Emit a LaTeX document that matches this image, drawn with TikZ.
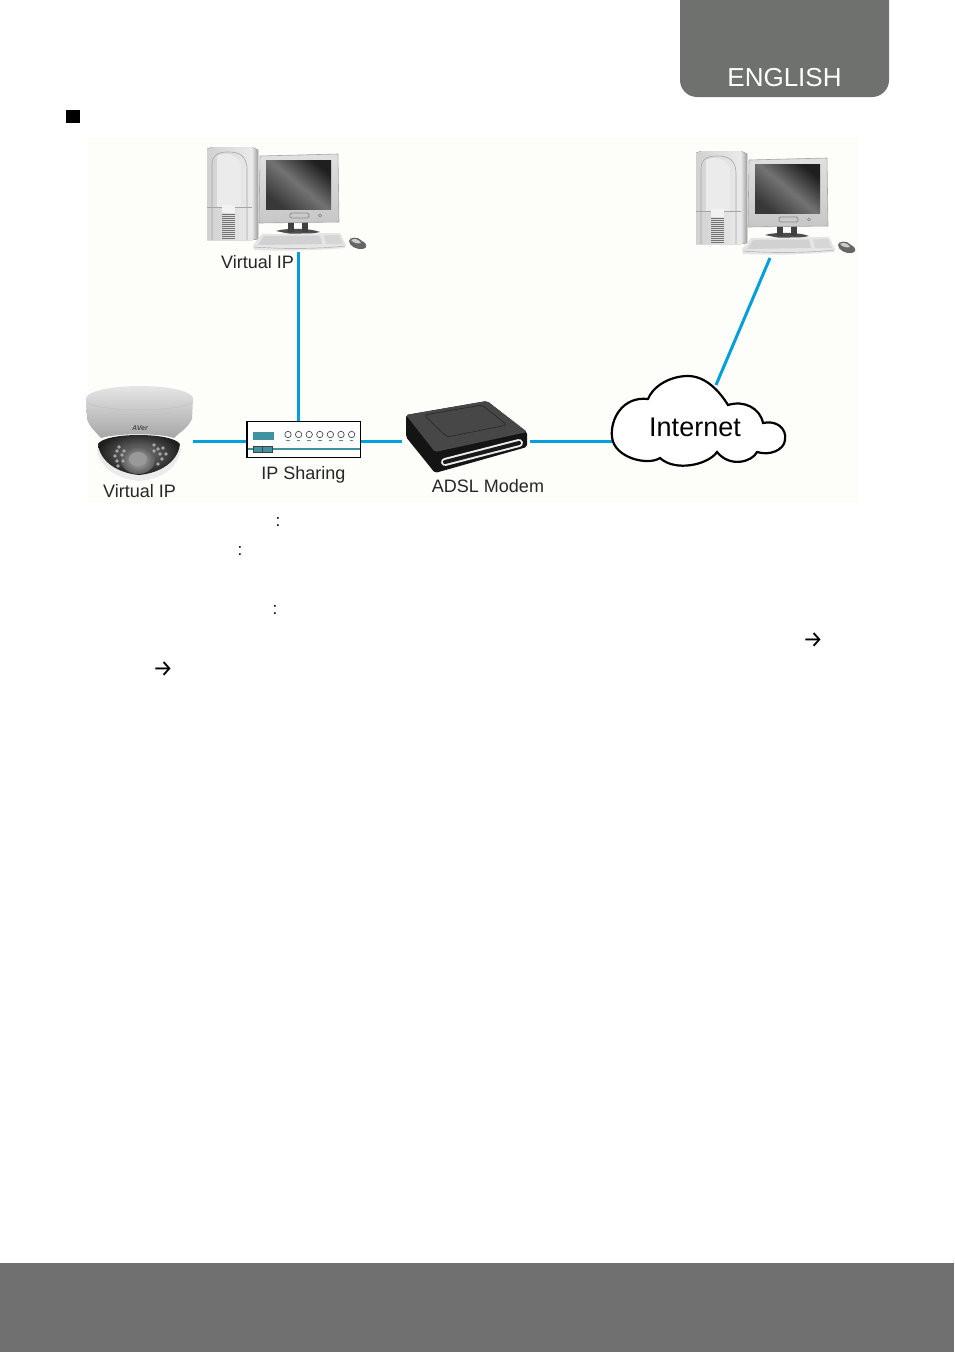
\documentclass[tikz,border=0pt]{standalone}
\usepackage{fontspec}
\setmainfont{Liberation Sans}
\newfontfamily\arrowfont{Fira Sans}
\usetikzlibrary{shapes.geometric}
\definecolor{tabgrey}{HTML}{6F716F}
\definecolor{bandgrey}{HTML}{707070}
\definecolor{bgpanel}{HTML}{FDFEFA}
\definecolor{linkblue}{HTML}{00A0DC}
\definecolor{teal1}{HTML}{3F93A0}
\tikzset{
  link/.style={draw=linkblue,line width=3pt},
  lab/.style={inner sep=0pt,font=\fontsize{18}{20}\selectfont,text=black!85,anchor=base},
  colonmark/.style={inner sep=0pt,font=\fontsize{17}{20}\selectfont,anchor=center},
  arrowmark/.style={inner sep=0pt,font=\arrowfont\fontsize{23}{25}\selectfont,anchor=center},
  computer/.pic={
    % tower
    \fill[left color=black!18,right color=black!8] (207,149) -- (212,147) -- (252,147) -- (252,240) -- (207,240) -- cycle;
    \fill[left color=black!10,right color=black!38] (252,147) -- (258,150) -- (258,239) -- (252,240) -- cycle;
    \draw[black!35,line width=.6pt] (212,240) -- (212,165) .. controls (212,155) and (218,152) .. (228,152) .. controls (240,152) and (246,156) .. (247,168) -- (247,240);
    \fill[black!8] (217,156) .. controls (224,152) and (238,153) .. (241,165) -- (241,207) -- (217,207) -- cycle;
    \draw[black!35,line width=.5pt] (207,207) -- (252,207);
    \fill[black!5] (222,205) rectangle (235,213);
    \foreach \yy in {214,216,...,238} {\draw[black!55,line width=.8pt] (222,\yy) -- (235,\yy);}
    % monitor stand
    \fill[black!70] (276,231) .. controls (285,228) and (310,228) .. (320,232) -- (300,236) -- cycle;
    \fill[black!75] (288,220) rectangle (294,232);
    \fill[black!75] (302,220) rectangle (308,232);
    % monitor
    \draw[black!35,line width=.6pt,top color=black!12,bottom color=black!22] (260,156) -- (338,154) -- (339,222) -- (259,223) -- cycle;
    \shade[left color=black!88,right color=black!78,middle color=black!55,shading angle=-40] (266,160) rectangle (331,209);
    \draw[black!45,line width=.8pt,rounded corners=1.5pt] (290,213) rectangle (309,218);
    \draw[black!50,line width=.5pt] (320,215.5) circle (1.6);
    % keyboard
    \fill[black!10] (262,234) -- (340,233) -- (346,245) -- (345,248) .. controls (310,251) and (280,251) .. (254,250) -- (253,245) -- cycle;
    \fill[black!18] (264,236) -- (320,235.5) -- (322,244) -- (258,245) -- cycle;
    \fill[black!16] (324,235.5) -- (339,235) -- (343,244) -- (326,244) -- cycle;
    \draw[black!35,line width=.4pt] (254,247) .. controls (280,249) and (320,249) .. (345,246);
    % mouse
    \fill[black!60] (349,241) .. controls (349,237) and (358,236) .. (362,241) .. controls (367,243) and (368,248) .. (363,249) .. controls (357,250) and (349,246) .. (349,241) -- cycle;
    \fill[black!20] (351,240) .. controls (354,238) and (359,239) .. (361,243) .. controls (358,244) and (353,243) .. (351,240) -- cycle;
  }
}
\begin{document}
\begin{tikzpicture}[x=1pt,y=-1pt]
\useasboundingbox (0,0) rectangle (954,1352);
\fill[white] (0,0) rectangle (954,1352);
% page furniture
\begin{scope}
\clip (0,0) rectangle (954,1352);
\fill[tabgrey,rounded corners=17pt] (680,-40) rectangle (889,97);
\end{scope}
\node[inner sep=0pt,anchor=base,text=white,font=\fontsize{26}{28}\selectfont] (tabtext) at (784.5,86) {ENGLISH};
\fill[bandgrey] (0,1263) rectangle (954,1352);
\fill[black] (66,110) rectangle (80,123);
\fill[bgpanel] (87,137) rectangle (858,503);

% connection points
\coordinate (pc1port) at (298,252);
\coordinate (pc2port) at (770,258);
\coordinate (cloudtop) at (716,385);
\coordinate (cloudleft) at (613,441);
\coordinate (swtop) at (298,421);
\coordinate (swleft) at (247,441);
\coordinate (swright) at (361,441);
\coordinate (camright) at (193,441);
\coordinate (modemleft) at (402,441);
\coordinate (modemright) at (530,441);

% connectors
\draw[link] (pc1port) -- (swtop);
\draw[link] (camright) -- (swleft);
\draw[link] (swright) -- (modemleft);
\draw[link] (modemright) -- (cloudleft);
\draw[link] (pc2port) -- (cloudtop);

% computers
\pic at (0,0) {computer};
\pic at (489,4) {computer};
\node[lab] (lab1) at (257.5,268) {Virtual IP};

% camera
\fill[white!92!black] (97,448) .. controls (99,470) and (120,479) .. (139,481) .. controls (160,479) and (178,470) .. (181,448) -- cycle;
\shade[inner color=black!50,outer color=black!88] (98,444) .. controls (105,432) and (172,432) .. (180,444) .. controls (178,462) and (160,473) .. (139,475) .. controls (118,473) and (100,462) .. (98,444) -- cycle;
\shade[top color=black!8,bottom color=black!35] (86,398) .. controls (92,382) and (188,382) .. (193,398) -- (192,419) .. controls (188,428) and (180,432) .. (174,438) .. controls (160,433) and (118,433) .. (101,438) .. controls (96,432) and (90,428) .. (87,419) -- cycle;
\draw[black!25,line width=.5pt] (87,403) .. controls (105,412) and (175,412) .. (192,403);
\node[inner sep=0pt,font=\bfseries\itshape\fontsize{7}{8}\selectfont,text=black!70] (aver) at (140,428) {AVer};
\shade[inner color=black!30,outer color=black!65] (138,460) ellipse (17 and 14);
\fill[black!40] (138,459) ellipse (9 and 7);
\foreach \px/\py in {119/447,117/451,115/456,117/461,118/466,124/451,122/455,123/461,154/445,158/449,160/454,162/459,158/464,163/448,166/454,154/451}{
  \fill[black!35] (\px,\py) circle (1.8);
}
\node[lab] (lab2) at (139.5,497) {Virtual IP};

% switch
\draw[fill=white,draw=black,line width=1.8pt] (247,421.5) rectangle (360.5,457.5);
\fill[teal1] (253,432) rectangle (274,440);
\foreach \cx in {288,298.6,309.2,319.8,330.4,341,351.6}{
  \draw[black!70,line width=.7pt] (\cx,434.5) circle (3.2);
  \draw[teal1,line width=1.6pt] (\cx-1.8,440.5) -- (\cx+1.8,440.5);
}
\draw[teal1,line width=1.2pt] (248,449) -- (360,449);
\draw[fill=teal1,draw=black!75,line width=.5pt] (253,446.5) rectangle (272,452);
\draw[black!75,line width=.5pt] (262.5,446.5) -- (262.5,452);
\node[lab] (lab3) at (303.5,479) {IP Sharing};

% modem
\fill[black!92,rounded corners=2pt] (406,415) -- (487,401) -- (527,432) -- (527,447) -- (435,473) -- (406,437) -- cycle;
\fill[black!72,rounded corners=2pt] (406,415) -- (487,401) -- (527,432) -- (435,452) -- cycle;
\draw[black!85,line width=.6pt,rounded corners=3pt] (424,415) -- (482,405) -- (507,425) -- (447,437) -- cycle;
\draw[black!8,line width=8pt,line cap=round] (445,462) -- (519,443);
\draw[black!90,line width=4pt,line cap=round] (445,462) -- (519,443);
\node[lab] (lab4) at (488,492) {ADSL Modem};

% cloud
\draw[black,fill=white,line width=2.2pt]
  (612,437)
  .. controls (610,420) and (622,396) .. (648,399)
  .. controls (652,388) and (668,376) .. (688,376)
  .. controls (706,376) and (720,392) .. (728,405)
  .. controls (744,400) and (760,408) .. (763,423)
  .. controls (776,420) and (787,428) .. (785,440)
  .. controls (784,450) and (770,456) .. (757,452)
  .. controls (752,462) and (730,468) .. (717,452)
  .. controls (708,465) and (675,472) .. (660,458)
  .. controls (648,466) and (614,458) .. (612,437) -- cycle;
\node[inner sep=0pt,anchor=base,font=\fontsize{27}{30}\selectfont] (cloudtext) at (695,436) {Internet};

% marks below the panel
\node[colonmark] (c1) at (278,522) {:};
\node[colonmark] (c2) at (240,551) {:};
\node[colonmark] (c3) at (275,610) {:};
\node[arrowmark] (a1) at (813,640) {→};
\node[arrowmark] (a2) at (163,669) {→};
\end{tikzpicture}
\end{document}
